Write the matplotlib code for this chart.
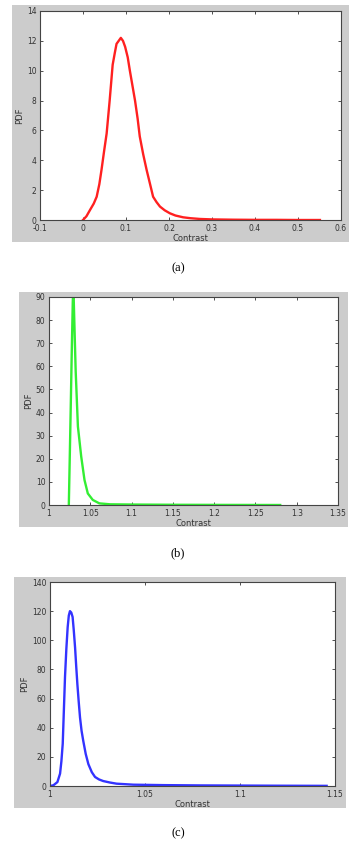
import matplotlib
matplotlib.use("Agg")
from matplotlib import pyplot as plt
from matplotlib.patches import Rectangle

# (a) red curve
xa = [0.0, 0.008, 0.0163, 0.025, 0.0318, 0.038, 0.043, 0.049, 0.055, 0.062, 0.069,
      0.074, 0.078, 0.083, 0.088, 0.093, 0.098, 0.104, 0.109, 0.115, 0.121, 0.127,
      0.132, 0.14, 0.148, 0.156, 0.163, 0.171, 0.179, 0.19, 0.202, 0.215, 0.233,
      0.25, 0.272, 0.3, 0.35, 0.4, 0.45, 0.5, 0.551]
ya = [0.0, 0.25, 0.67, 1.1, 1.56, 2.4, 3.35, 4.6, 5.8, 8.0, 10.4,
      11.2, 11.8, 12.0, 12.2, 12.0, 11.6, 10.9, 10.0, 9.0, 8.0, 6.8,
      5.6, 4.4, 3.35, 2.4, 1.56, 1.2, 0.9, 0.65, 0.45, 0.3, 0.18,
      0.12, 0.07, 0.04, 0.02, 0.01, 0.01, 0.0, 0.0]

# (b) green curve
xb = [1.0240, 1.0250, 1.0262, 1.0275, 1.0288, 1.0295, 1.0310, 1.0323, 1.0350,
      1.0390, 1.0430, 1.0470, 1.0530, 1.0610, 1.0740, 1.1000, 1.1500, 1.2000,
      1.2500, 1.2800]
yb = [0.0, 18.0, 40.0, 65.0, 88.0, 95.0, 75.0, 58.0, 34.0,
      21.0, 10.8, 5.0, 2.2, 0.7, 0.3, 0.2, 0.1, 0.05,
      0.02, 0.0]

# (c) blue curve
xc = [1.0, 1.0018, 1.0039, 1.0053, 1.0060, 1.0067, 1.0073, 1.0079, 1.0086, 1.0093,
      1.0099, 1.0105, 1.0112, 1.0119, 1.0125, 1.0132, 1.0138, 1.0144, 1.0151,
      1.0158, 1.0166, 1.0175, 1.0188, 1.0202, 1.0220, 1.0237, 1.0258, 1.0280,
      1.0315, 1.0350, 1.0439, 1.06, 1.08, 1.10, 1.12, 1.1456]
yc = [0.0, 0.5, 2.7, 8.5, 17.0, 29.0, 52.0, 75.0, 94.0, 109.0,
      117.0, 120.0, 119.0, 116.0, 107.0, 95.0, 82.0, 70.0, 58.0,
      47.0, 38.0, 31.0, 22.0, 15.0, 9.5, 6.2, 4.5, 3.4,
      2.4, 1.6, 0.9, 0.6, 0.4, 0.3, 0.2, 0.1]

W, H = 360, 847
fig = plt.figure(figsize=(W / 100, H / 100), dpi=100)
fig.patch.set_facecolor('white')


def px_box(x0, y0, x1, y1):
    return [x0 / W, 1 - y1 / H, (x1 - x0) / W, (y1 - y0) / H]


def panel(bg, box, x, y, color, xlim, xticks, xlabels, ylim, yticks, tag, tag_y):
    l, b, w, h = px_box(*bg)
    fig.patches.append(Rectangle((l, b), w, h, transform=fig.transFigure,
                                 facecolor='#cccccc', edgecolor='none', zorder=-5))
    ax = fig.add_axes(px_box(*box))
    ax.set_zorder(1)
    ax.plot(x, y, color=color, lw=1.7, solid_joinstyle='round')
    ax.set_xlim(*xlim)
    ax.set_ylim(*ylim)
    ax.set_xticks(xticks)
    ax.set_xticklabels(xlabels)
    ax.set_yticks(yticks)
    ax.tick_params(direction='in', top=True, right=True, length=2.5, width=0.6,
                   labelsize=5.5, labelcolor='#333333', color='#333333')
    ax.tick_params(axis='x', pad=3)
    ax.tick_params(axis='y', pad=2.5)
    for s in ax.spines.values():
        s.set_color('#444444')
        s.set_linewidth(0.8)
    ax.set_xlabel('Contrast', fontsize=6, color='#333333', labelpad=0.5)
    ax.set_ylabel('PDF', fontsize=6, color='#333333', labelpad=2)
    fig.text(178 / W, 1 - tag_y / H, tag, ha='center', va='center',
             fontsize=9, family='Liberation Serif')
    return ax


panel((12, 5, 349, 242), (40, 11, 341, 220), xa, ya, '#ff2020',
      (-0.1, 0.6), [-0.1, 0, 0.1, 0.2, 0.3, 0.4, 0.5, 0.6],
      ['-0.1', '0', '0.1', '0.2', '0.3', '0.4', '0.5', '0.6'],
      (0, 14), range(0, 15, 2), '(a)', 268)

panel((19, 292, 348, 527), (49, 297, 338, 505), xb, yb, '#33ee33',
      (1, 1.35), [1, 1.05, 1.1, 1.15, 1.2, 1.25, 1.3, 1.35],
      ['1', '1.05', '1.1', '1.15', '1.2', '1.25', '1.3', '1.35'],
      (0, 90), range(0, 91, 10), '(b)', 553)

panel((14, 577, 346, 808), (50, 582, 335, 786), xc, yc, '#3333ff',
      (1, 1.15), [1, 1.05, 1.1, 1.15], ['1', '1.05', '1.1', '1.15'],
      (0, 140), range(0, 141, 20), '(c)', 833)

plt.savefig('out.png', dpi=100)
